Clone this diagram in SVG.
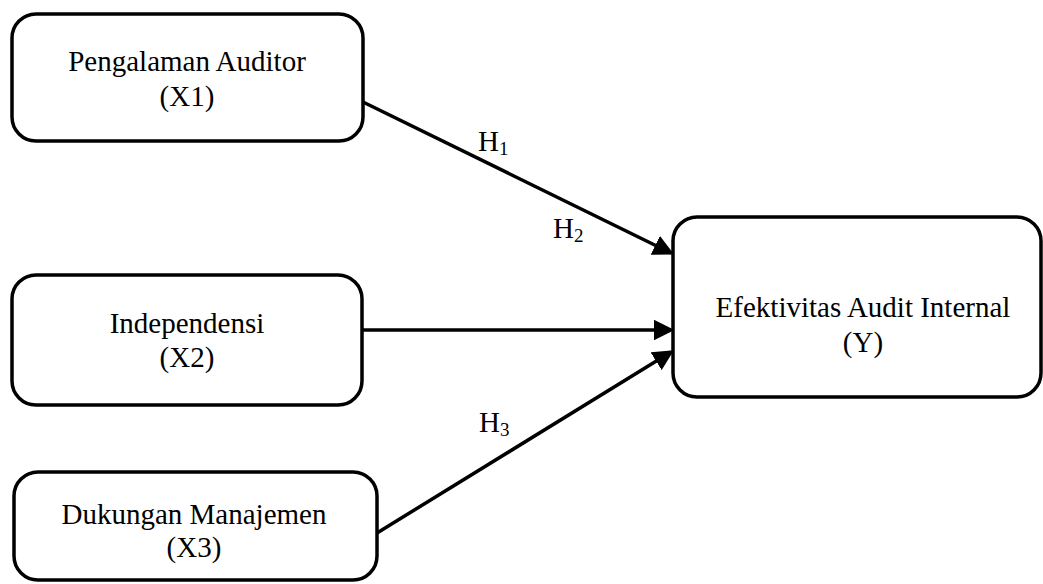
<svg xmlns="http://www.w3.org/2000/svg" width="1043" height="584" viewBox="0 0 1043 584">
<defs>
<style>
.box{fill:#fff;stroke:#000;stroke-width:3.5}
.t{font-family:"Liberation Serif","Times New Roman",serif;font-size:29px;fill:#000;text-anchor:middle}
.h{font-family:"Liberation Serif","Times New Roman",serif;font-size:29px;fill:#000}
.sub{font-size:19px}
.c{stroke:#000;stroke-width:3.5;fill:none;marker-end:url(#ah)}
</style>
<marker id="ah" markerWidth="6" markerHeight="6" refX="5" refY="3" orient="auto" markerUnits="strokeWidth">
<path d="M0,0 L6,3 L0,6 z" fill="#000"/>
</marker>
</defs>
<rect width="1043" height="584" fill="#fff"/>
<g id="connectors">
<line class="c" x1="363" y1="102" x2="671" y2="253"/>
<line class="c" x1="362" y1="330" x2="671" y2="330"/>
<line class="c" x1="377" y1="533" x2="671" y2="352"/>
</g>
<g id="x1">
<rect class="box" x="12" y="14" width="351" height="127" rx="24"/>
<text class="t" x="187" y="71">Pengalaman Auditor</text>
<text class="t" x="187" y="106">(X1)</text>
</g>
<g id="x2">
<rect class="box" x="12" y="275" width="350" height="130" rx="24"/>
<text class="t" x="187" y="333">Independensi</text>
<text class="t" x="187" y="367">(X2)</text>
</g>
<g id="x3">
<rect class="box" x="14" y="472" width="363" height="108" rx="24"/>
<text class="t" x="194" y="524">Dukungan Manajemen</text>
<text class="t" x="194" y="557">(X3)</text>
</g>
<g id="y">
<rect class="box" x="673" y="217" width="368" height="180" rx="24"/>
<text class="t" x="863" y="317">Efektivitas Audit Internal</text>
<text class="t" x="863" y="352">(Y)</text>
</g>
<g id="labels">
<text class="h" x="478" y="151">H<tspan class="sub" dy="4">1</tspan></text>
<text class="h" x="553" y="238">H<tspan class="sub" dy="4">2</tspan></text>
<text class="h" x="479" y="432">H<tspan class="sub" dy="4">3</tspan></text>
</g>
</svg>
